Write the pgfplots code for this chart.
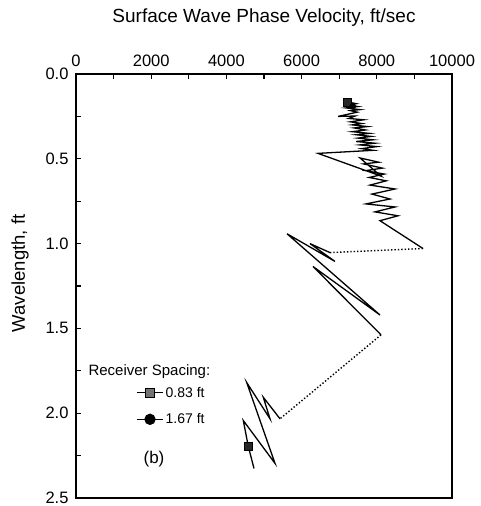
\documentclass[border=0pt]{standalone}
\usepackage{fontspec}
\setmainfont{Liberation Sans}
\usepackage{pgfplots}
\pgfplotsset{compat=1.18}
\begin{document}
\begin{tikzpicture}
\begin{axis}[
  scale only axis, width=376pt, height=424pt,
  xmin=0, xmax=10000, ymin=0, ymax=2.5, y dir=reverse,
  xtick={0,2000,4000,6000,8000,10000}, minor x tick num=1,
  ytick={0,0.5,1.0,1.5,2.0,2.5}, minor y tick num=1,
  xticklabel pos=upper, xtick pos=upper, ytick pos=left,
  tick align=inside, major tick length=5pt, minor tick length=5pt,
  tick style={line width=1.2pt, black},
  axis line style={line width=1.6pt},
  scaled x ticks=false,
  /pgf/number format/assume math mode=true,
  ticklabel style={font=\fontsize{16.5}{19}\selectfont},
  xticklabel style={yshift=4pt, /pgf/number format/1000 sep={}},
  yticklabel style={xshift=-4pt, /pgf/number format/.cd, fixed, fixed zerofill, precision=1},
  xlabel={Surface Wave Phase Velocity, ft/sec},
  xlabel style={font=\fontsize{19}{21}\selectfont, at={(axis description cs:0.5,1.134)}, anchor=center},
  ylabel={Wavelength, ft},
  ylabel style={font=\fontsize{18.5}{20}\selectfont, at={(axis description cs:-0.149,0.53)}, anchor=center},
  legend image code/.code={\draw[#1, mark repeat=2, mark phase=2] plot coordinates {(0pt,0pt) (13pt,0pt) (26pt,0pt)};},
  legend style={draw=none, fill=none, at={(0.152,0.272)}, anchor=north west,
    font=\fontsize{14}{16}\selectfont, row sep=11pt},
  legend cell align=left,
]
\coordinate (bl) at (axis cs:0,2.5);
\coordinate (tr) at (axis cs:10000,0);
% 0.83 ft spacing (upper branch)
\addplot[black, line width=1.3pt, forget plot] coordinates {
(7207,0.164) (7450,0.175) (7250,0.183) (7500,0.192) (7180,0.200) (7550,0.210)
(7300,0.216) (7480,0.225) (6970,0.250) (7420,0.248) (7250,0.262) (7650,0.270)
(7300,0.282) (7600,0.292) (7350,0.300) (7750,0.310) (7400,0.318) (7700,0.330)
(7350,0.340) (7800,0.350) (7450,0.358) (7850,0.368) (7500,0.378) (7900,0.388)
(7450,0.398) (7950,0.408) (7550,0.418) (8000,0.428) (7600,0.440) (7900,0.450)
(6436,0.468) (8112,0.602) (7553,0.495) (8050,0.520) (7650,0.530) (8150,0.555)
(7700,0.570) (8200,0.590) (7800,0.610) (8250,0.630) (7820,0.655) (8484,0.678)
(7872,0.708) (8351,0.737) (7713,0.766) (8484,0.784) (7952,0.813) (8564,0.836)
(8085,0.865) (9229,1.029)
};
% connector
\addplot[black, line width=1.4pt, dash pattern=on 1.4pt off 2pt, forget plot] coordinates {
(9229,1.029) (6755,1.053)
};
% middle branch
\addplot[black, line width=1.3pt, forget plot] coordinates {
(6755,1.053) (6223,1.000) (6888,1.105) (5612,0.942) (8085,1.421) (6303,1.135) (8112,1.538)
};
\addplot[black, line width=1.4pt, dash pattern=on 1.4pt off 2pt, forget plot] coordinates {
(8112,1.538) (5426,2.033)
};
% lower branch
\addplot[black, line width=1.3pt, forget plot] coordinates {
(5426,2.033) (4981,1.906) (5160,2.033) (4540,1.819) (5293,2.296) (4449,2.043)
(4582,2.195) (4734,2.326)
};
% markers
\addplot[only marks, mark=square*, mark size=4pt, mark options={fill=black!85, draw=black}, forget plot] coordinates {
(7207,0.164) (4582,2.195)
};
\addplot[only marks, mark=*, mark size=3pt, mark options={fill=black}, forget plot] coordinates {
(7360,0.190)
};
\addlegendimage{black, line width=1.3pt, mark=square*, mark size=4.5pt, mark options={fill=black!55, draw=black}}
\addlegendentry{0.83 ft}
\addlegendimage{black, line width=1.3pt, mark=*, mark size=5pt, mark options={fill=black}}
\addlegendentry{1.67 ft}
\node[anchor=west, font=\fontsize{15}{17}\selectfont] at (axis cs:239,1.757) {Receiver Spacing:};
\node[font=\fontsize{17}{19}\selectfont] at (axis cs:2074,2.27) {(b)};
\end{axis}
\pgfresetboundingbox
\path[use as bounding box] ([shift={(-76pt,-8pt)}]bl) rectangle ([shift={(28pt,74pt)}]tr);
\end{tikzpicture}
\end{document}
